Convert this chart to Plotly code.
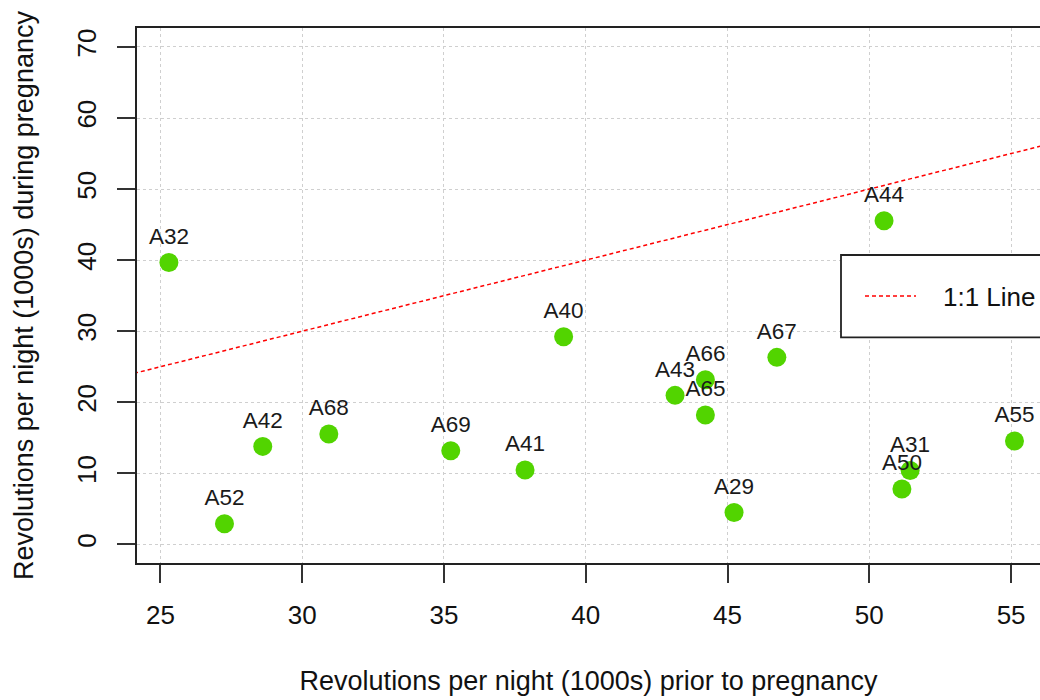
import plotly.graph_objects as go

# Data
labels = ["A32", "A52", "A42", "A68", "A69", "A41", "A40", "A43", "A66", "A65",
          "A67", "A29", "A31", "A50", "A55", "A44"]
prior = [25.30, 27.26, 28.61, 30.94, 35.24, 37.86, 39.22, 43.15, 44.22, 44.22,
         46.74, 45.23, 51.44, 51.15, 55.12, 50.52]
during = [39.68, 2.91, 13.79, 15.54, 13.19, 10.47, 29.23, 20.97, 23.18, 18.21,
          26.32, 4.50, 10.41, 7.80, 14.55, 45.55]
line_x = [20, 60]
line_y = [20, 60]
x_ticks = [25, 30, 35, 40, 45, 50, 55]
y_ticks = [0, 10, 20, 30, 40, 50, 60, 70]

FONT = "Liberation Sans, Arial, sans-serif"
W, H = 1040, 700
ML, MR, MT, MB = 137, 0, 28, 137

fig = go.Figure()
fig.add_trace(go.Scatter(
    x=line_x, y=line_y, mode="lines", name="1:1 Line",
    line=dict(color="red", width=1.5, dash="4px,3px"),
    showlegend=False, hoverinfo="skip"))
fig.add_trace(go.Scatter(
    x=prior, y=during, mode="markers+text", text=labels,
    textposition="top center",
    textfont=dict(family=FONT, size=22.5, color="#1a1a1a"),
    marker=dict(size=19, color="#52D400", line=dict(width=0)),
    showlegend=False, cliponaxis=False))

axis_common = dict(
    showgrid=True, gridcolor="#cfcfcf", griddash="dot", gridwidth=1,
    zeroline=False, showline=True, linecolor="#222222", linewidth=1.5,
    ticks="outside", ticklen=18, tickwidth=1.5, tickcolor="#333333",
    tickfont=dict(family=FONT, size=26, color="#111111"),
)
fig.update_xaxes(
    **axis_common, range=[24.175, 56.02], tickvals=x_ticks, mirror=True,
    ticklabelstandoff=10,
    title=dict(text="Revolutions per night (1000s) prior to pregnancy",
               font=dict(family=FONT, size=27, color="#111111"), standoff=42))
fig.update_yaxes(
    **axis_common, range=[-2.62, 72.67], tickvals=y_ticks, tickangle=-90,
    ticklabelstandoff=11,
    title=dict(text="Revolutions per night (1000s) during pregnancy",
               font=dict(family=FONT, size=27, color="#111111"), standoff=30))

# Legend box (drawn like R's legend, clipped at the right edge)
pw = W - ML - MR
ph = H - MT - MB
def px_x(p):
    return (p - ML) / pw
def px_y(p):
    return (H - MB - p) / ph

fig.add_shape(type="rect", xref="paper", yref="paper",
              x0=px_x(841), x1=px_x(1060), y0=px_y(337.3), y1=px_y(255),
              fillcolor="white", line=dict(color="#222222", width=1.8), layer="above")
fig.add_shape(type="line", xref="paper", yref="paper",
              x0=px_x(865), x1=px_x(916), y0=px_y(296), y1=px_y(296),
              line=dict(color="red", width=1.5, dash="4px,3px"), layer="above")
fig.add_annotation(xref="paper", yref="paper", x=px_x(941), y=px_y(297),
                   xanchor="left", yanchor="middle", showarrow=False,
                   text="1:1 Line", font=dict(family=FONT, size=26, color="#111111"))

fig.update_layout(
    width=W, height=H, margin=dict(l=ML, r=MR, t=MT, b=MB),
    paper_bgcolor="white", plot_bgcolor="white",
    font=dict(family=FONT), showlegend=False)

fig.write_html("out.html")
